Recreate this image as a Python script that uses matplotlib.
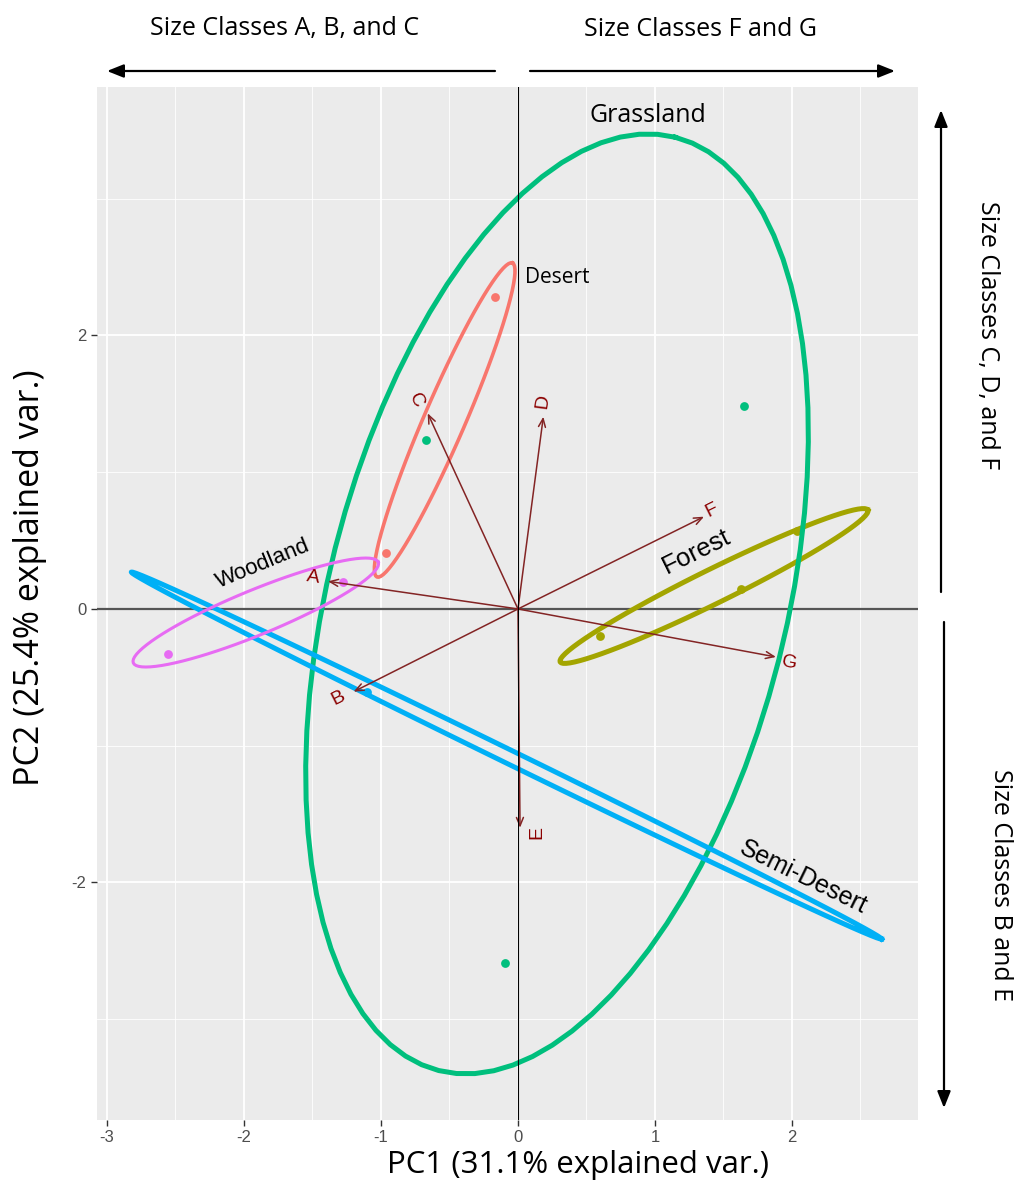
import numpy as np
import matplotlib.pyplot as plt

plt.rcParams['axes.unicode_minus'] = False
plt.rcParams['font.family'] = ['Liberation Sans', 'DejaVu Sans']

# PCA scores by habitat
desert_x = [-0.168, -0.963]
desert_y = [2.28, 0.41]
forest_x = [0.60, 1.63, 2.04]
forest_y = [-0.20, 0.146, 0.57]
grass_x = [-0.672, 1.65, -0.095]
grass_y = [1.236, 1.485, -2.59]
semi_x = [-1.10]
semi_y = [-0.61]
wood_x = [-1.277, -2.555]
wood_y = [0.197, -0.33]

# loadings (size classes)
var_names = ['A', 'B', 'C', 'D', 'E', 'F', 'G']
var_x = [-1.387, -1.20, -0.659, 0.185, 0.015, 1.358, 1.883]
var_y = [0.202, -0.605, 1.431, 1.406, -1.60, 0.675, -0.351]
# where each size-class name sits, and its angle
lab_x = [-1.496, -1.314, -0.745, 0.182, 0.136, 1.416, 1.978]
lab_y = [0.227, -0.651, 1.528, 1.521, -1.636, 0.724, -0.395]
lab_rot = [-8.3, 26.8, -65.3, 82.5, 90, 26.4, -10.6]

# normal-probability ellipses: centre x, centre y, semi-major, semi-minor, angle (deg)
ell_names = ['Desert', 'Forest', 'Grassland', 'Semi-Desert', 'Woodland']
ell_cx = [-0.535, 1.431, 0.285, -0.084, -1.914]
ell_cy = [1.382, 0.168, 0.037, -1.072, -0.026]
ell_a = [1.25, 1.253, 3.52, 3.05, 0.967]
ell_b = [0.15, 0.124, 1.67, 0.05, 0.164]
ell_ang = [66.7, 26.3, 75.8, -26.1, 22.4]

colors = ['#F8766D', '#A3A500', '#00BF7D', '#00B0F6', '#E76BF3']
ell_lw = [2.6, 3.6, 3.6, 3.6, 2.2]

W, H = 1014, 1192
fig = plt.figure(figsize=(W / 100, H / 100), dpi=100)
ax = fig.add_axes([97 / W, 1 - 1120 / H, (918 - 97) / W, (1120 - 87) / H])
ax.set_facecolor('#EBEBEB')
for s in ax.spines.values():
    s.set_visible(False)

ax.set_xlim(-3.073, 2.920)
ax.set_ylim(-3.737, 3.817)
ax.set_xticks([-3, -2, -1, 0, 1, 2])
ax.set_yticks([-2, 0, 2])
ax.set_xticks(np.arange(-2.5, 3, 1), minor=True)
ax.set_yticks([-3, -1, 1, 3], minor=True)
ax.grid(which='major', color='white', lw=1.3)
ax.grid(which='minor', color='white', lw=0.6)
ax.set_axisbelow(True)
ax.tick_params(which='major', length=4, color='#333333', labelcolor='#4D4D4D',
               labelsize=12, width=1)
ax.tick_params(which='minor', length=0)

ax.axhline(0, color='#555555', lw=1.6, zorder=1)

# points
for px, py, c in zip([desert_x, forest_x, grass_x, semi_x, wood_x],
                     [desert_y, forest_y, grass_y, semi_y, wood_y], colors):
    ax.scatter(px, py, s=40, color=c, zorder=3, linewidths=0)

# ellipses
t = np.linspace(0, 2 * np.pi, 81)
for cx, cy, a, b, ang, c, lw in zip(ell_cx, ell_cy, ell_a, ell_b, ell_ang, colors, ell_lw):
    th = np.deg2rad(ang)
    ex = cx + a * np.cos(t) * np.cos(th) - b * np.sin(t) * np.sin(th)
    ey = cy + a * np.cos(t) * np.sin(th) + b * np.sin(t) * np.cos(th)
    ax.plot(ex, ey, color=c, lw=lw, zorder=3, solid_joinstyle='round')

# loading arrows and labels
for name, vx, vy, lx, ly, rot in zip(var_names, var_x, var_y, lab_x, lab_y, lab_rot):
    ax.annotate('', xy=(vx, vy), xytext=(0, 0),
                arrowprops=dict(arrowstyle='->,head_length=0.6,head_width=0.25',
                                color='#832424', lw=1.1, shrinkA=0, shrinkB=0),
                zorder=4)
    ax.text(lx, ly, name, rotation=rot, rotation_mode='anchor', ha='center',
            va='center', color='#8B0000', fontsize=14, zorder=5)

ax.axvline(0, color='black', lw=0.8, zorder=4)

# group labels
ax.text(0.948, 3.605, 'Grassland', fontsize=18, family='Open Sans', ha='center', va='center')
ax.text(0.05, 2.425, 'Desert', fontsize=15, family='Open Sans', ha='left', va='center')
ax.text(-1.86, 0.33, 'Woodland', fontsize=16, ha='center', va='center', rotation=22.4)
ax.text(1.30, 0.42, 'Forest', fontsize=18.5, ha='center', va='center', rotation=26.3)
ax.text(2.08, -1.96, 'Semi-Desert', fontsize=18, ha='center', va='center', rotation=-26.1)

fig.text(578 / W, 1 - 1165 / H, 'PC1 (31.1% explained var.)', fontsize=22.5,
         family='Open Sans', ha='center', va='center')
fig.text(30 / W, 1 - 578 / H, 'PC2 (25.4% explained var.)', fontsize=24.5,
         family='Open Sans', ha='center', va='center', rotation=90)

# size-class direction arrows around the panel
arr = dict(arrowstyle='-|>,head_length=0.5,head_width=0.2', color='black', lw=1.6,
           shrinkA=0, shrinkB=0)
for (x0, y0), (x1, y1) in [((495, 71), (107, 71)), ((530, 71), (895, 71)),
                           ((941, 592), (941, 110)), ((944, 622), (944, 1108))]:
    fig.add_artist(plt.matplotlib.patches.FancyArrowPatch(
        (x0 / W, 1 - y0 / H), (x1 / W, 1 - y1 / H), transform=fig.transFigure,
        mutation_scale=20, **arr))

fig.text(285 / W, 1 - 28 / H, 'Size Classes A, B, and C', fontsize=18,
         family='Open Sans', ha='center', va='center')
fig.text(700 / W, 1 - 30 / H, 'Size Classes F and G', fontsize=18,
         family='Open Sans', ha='center', va='center')
fig.text(988 / W, 1 - 335 / H, 'Size Classes C, D, and F', fontsize=18,
         family='Open Sans', ha='center', va='center', rotation=-90)
fig.text(1000 / W, 1 - 885 / H, 'Size Classes B and E', fontsize=18,
         family='Open Sans', ha='center', va='center', rotation=-90)

fig.savefig('out.png', dpi=100)
